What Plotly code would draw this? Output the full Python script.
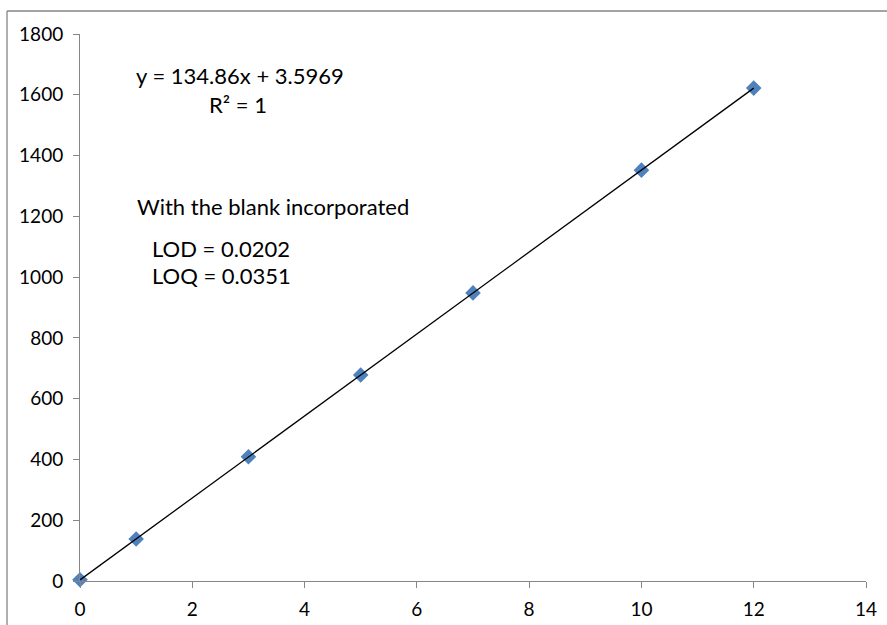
import plotly.graph_objects as go

# Data
conc = [0, 1, 3, 5, 7, 10, 12]
signal = [4, 138, 409, 678, 948, 1352, 1622]
trend_x = [0, 12]
trend_y = [3.6, 1621.9]

x_ticks = [0, 2, 4, 6, 8, 10, 12, 14]
y_ticks = [0, 200, 400, 600, 800, 1000, 1200, 1400, 1600, 1800]

eq_text = "y = 134.86x + 3.5969"
r2_text = "R² = 1"
blank_text = "With the blank incorporated"
lod_text = "LOD = 0.0202"
loq_text = "LOQ = 0.0351"

FONT = "Lato"
AX = "#868686"

fig = go.Figure()
fig.add_trace(go.Scatter(
    x=conc, y=signal, mode="markers",
    marker=dict(symbol="diamond", size=12, color="#4F81BD", line=dict(width=0)),
    cliponaxis=False, showlegend=False))
fig.add_trace(go.Scatter(
    x=trend_x, y=trend_y, mode="lines",
    line=dict(color="black", width=1.3),
    cliponaxis=False, showlegend=False))

W, H = 887, 625
L, R, T, B = 80, 21, 34, 44
pw, ph = W - L - R, H - T - B

def px(xp):
    return (xp - L) / pw

def py(yp):
    return (H - B - yp) / ph

TICKSIZE = 19
fig.update_layout(
    width=W, height=H,
    margin=dict(l=L, r=R, t=T, b=B, autoexpand=False),
    paper_bgcolor="white", plot_bgcolor="white",
    font=dict(family=FONT, size=TICKSIZE, color="black"),
    xaxis=dict(range=[0, 14], tickvals=x_ticks, ticktext=[str(v) for v in x_ticks],
               showgrid=False, zeroline=False, showline=True, linecolor=AX, linewidth=1,
               ticks="outside", ticklen=6, tickcolor=AX, tickwidth=1, ticklabelstandoff=5,
               automargin=False,
               tickfont=dict(family=FONT, size=TICKSIZE, color="black")),
    yaxis=dict(range=[0, 1800], tickvals=y_ticks, ticktext=[str(v) for v in y_ticks],
               showgrid=False, zeroline=False, showline=True, linecolor=AX, linewidth=1,
               ticks="outside", ticklen=6, tickcolor=AX, tickwidth=1, ticklabelstandoff=6,
               automargin=False,
               tickfont=dict(family=FONT, size=TICKSIZE, color="black")),
    shapes=[
        dict(type="line", xref="paper", yref="paper", x0=px(7), x1=px(7), y0=py(11), y1=py(640),
             line=dict(color=AX, width=1.3)),
        dict(type="line", xref="paper", yref="paper", x0=px(7), x1=px(900), y0=py(11), y1=py(11),
             line=dict(color=AX, width=1.3)),
    ],
)

ann_font = dict(family=FONT, size=22, color="black")
for text, xa, ya in [
    (eq_text, 134, 75),
    (r2_text, 207, 104),
    (blank_text, 135, 206),
    (lod_text, 150, 248),
    (loq_text, 150, 275),
]:
    fig.add_annotation(text=text, xref="paper", yref="paper", x=px(xa), y=py(ya),
                       xanchor="left", yanchor="middle", showarrow=False, font=ann_font)

fig.write_html("out.html", config={"displayModeBar": False},
               post_script="document.body.style.margin='0';document.body.style.overflow='hidden';")
